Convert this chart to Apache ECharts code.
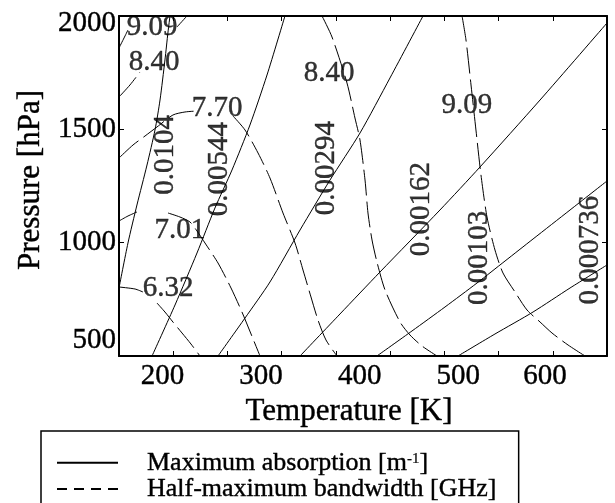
<!DOCTYPE html>
<html><head><meta charset="utf-8">
<script src="https://cdn.jsdelivr.net/npm/echarts@6/dist/echarts.min.js"></script>
<style>html,body{margin:0;padding:0;background:#fff}#c{width:615px;height:503px}</style>
</head><body><div id="c"></div>
<script>
const FONT = 'Liberation Serif';
const NAME_ABS = 'Maximum absorption [m-1]';
const NAME_BW = 'Half-maximum bandwidth [GHz]';

// x axis: tick marks and tick labels (temperature, K)
const xRange = [155.9, 650.8];
const xTickAt = [211.0, 266.0, 320.9, 375.9, 430.9, 485.8, 540.8, 595.8];
const xLabelAt = [200, 300, 400, 500, 588];
const xLabels = ['200', '300', '400', '500', '600'];
// y axis (pressure, hPa)
const yRange = [500, 2000];
const yStep = 500;

// solid contours: maximum absorption [T (K), P (hPa)]
const abs0104 = [[155.9,800.0],[165.0,998.5],[174.1,1166.2],[184.3,1342.6],[192.4,1497.1],[197.5,1629.4],[202.5,1805.9],[205.6,1929.4],[207.6,2000]];
const abs00544 = [[189.4,500],[212.7,725.0],[235.0,954.4],[253.2,1152.9],[270.5,1320.6],[288.7,1519.1],[306.0,1739.7],[324.2,2000]];
const abs00294 = [[256.3,500],[283.7,667.6],[309.0,826.5],[339.5,1055.9],[369.9,1276.5],[400.3,1483.8],[430.7,1726.5],[464.2,2000]];
const abs00162 = [[339.5,500],[380.0,685.3],[420.6,870.6],[481.4,1144.1],[522.0,1333.8],[582.9,1629.4],[650.8,1969.1]];
const abs00103 = [[417.5,500],[453.0,610.3],[486.5,716.2],[519.0,822.1],[547.4,919.1],[575.8,1016.2],[613.3,1144.1],[650.8,1272.1]];
const abs000736 = [[499.7,500],[537.2,597.1],[575.8,694.1],[613.3,800.0],[650.8,901.5]];

// dashed contours: half-maximum bandwidth (null = break under a label / outside)
const bw632 = [[155.9,804.4],[172.1,795.6],[180.2,782.4],null,[194.4,733.8],[202.5,694.1],[210.6,650.0],[219.8,601.5],[228.9,552.9],[238.0,500]];
const bw701 = [[155.9,1095.6],[165.0,1117.6],[174.1,1135.3],null,[205.6,1130.9],[217.7,1113.2],[227.9,1091.2],[235.0,1051.5],[243.1,998.5],[256.3,910.3],[269.5,800.0],[280.6,694.1],[289.8,597.1],[298.9,500]];
const bw770 = [[155.9,1373.5],[170.1,1430.9],[182.3,1470.6],[194.4,1510.3],[210.6,1563.2],[222.8,1576.5],[235.0,1580.9],null,[271.5,1558.8],[283.7,1497.1],[296.9,1395.6],[309.0,1285.3],[322.2,1130.9],[334.4,998.5],[342.5,879.4],[350.6,760.3],[357.7,658.8],[365.8,570.6],[377.0,500]];
const bw840 = [[155.9,1642.6],[167.0,1695.6],[177.2,1752.9],null,[214.7,1951.5],[224.8,2000],null,[361.8,2000],[371.9,1907.4],[387.1,1704.4],[395.2,1550.0],[400.3,1452.9],[405.4,1276.5],[408.4,1130.9],[412.5,1011.8],[417.5,914.7],[425.7,791.2],[440.9,650.0],[451.0,592.6],[463.2,544.1],[478.4,500]];
const bw909 = [[155.9,1858.8],[161.0,1903.0],[165.0,1938.2],null,[503.8,2000],[507.8,1894.1],[512.9,1695.6],[517.9,1497.1],[523.0,1298.5],[529.1,1113.2],[537.2,967.6],[545.3,866.2],[557.5,782.4],[569.7,702.9],[582.9,650.0],[595.0,601.5],[611.3,548.5],[628.5,500]];

// contour labels: [T, P, text, rotation]
const contourLabels = [
  [189.4,1951.5,'9.09',0],
  [191.4,1797.1,'8.40',0],
  [255.3,1594.1,'7.70',0],
  [217.7,1055.9,'7.01',0],
  [205.6,800.0,'6.32',0],
  [368.9,1748.5,'8.40',0],
  [508.8,1607.4,'9.09',0],
  [202.5,1386.8,'0.0104',90],
  [257.3,1325.0,'0.00544',90],
  [365.8,1329.4,'0.00294',90],
  [462.2,1148.5,'0.00162',90],
  [521.0,932.4,'0.00103',90],
  [633.6,967.6,'0.000736',90]
];

const solidContours = [abs0104, abs00544, abs00294, abs00162, abs00103, abs000736];
const dashedContours = [bw632, bw701, bw770, bw840, bw909];

function segments(arr) {
  const out = []; let cur = [];
  arr.forEach(p => { if (p === null) { if (cur.length) out.push(cur); cur = []; } else cur.push(p); });
  if (cur.length) out.push(cur);
  return out;
}

const INK = { color: '#000', textBorderColor: '#000', textBorderWidth: 0.4 };

const series = [];
solidContours.forEach(c => segments(c).forEach(seg => series.push({
  type: 'line', name: NAME_ABS, data: seg, symbol: 'none', smooth: 0.25, silent: true,
  lineStyle: { color: '#000', width: 1, type: 'solid' }, itemStyle: { color: '#000' }, z: 2
})));
dashedContours.forEach(c => segments(c).forEach(seg => series.push({
  type: 'line', name: NAME_BW, data: seg, symbol: 'none', smooth: 0.25, silent: true,
  lineStyle: { color: '#000', width: 1, type: [26, 6] }, itemStyle: { color: '#000' }, z: 2
})));
series.push({
  type: 'scatter', name: 'labels', silent: true, symbolSize: 1, z: 5,
  itemStyle: { color: 'rgba(0,0,0,0)' },
  label: Object.assign({ show: true, position: 'inside', fontFamily: FONT, fontSize: 29 }, INK),
  data: contourLabels.map(l => ({ value: [l[0], l[1]], label: { rotate: l[3], formatter: l[2] } }))
});

const axisLineStyle = { show: true, onZero: false, lineStyle: { color: '#000', width: 2 } };
const tickStyle = { show: true, inside: true, length: 5, lineStyle: { color: '#000', width: 1 } };

const chart = echarts.init(document.getElementById('c'), null, { renderer: 'canvas' });
chart.setOption({
  animation: false,
  backgroundColor: '#fff',
  textStyle: { fontFamily: FONT },
  grid: { left: 119, right: 8, top: 16, bottom: 147, containLabel: false, outerBoundsMode: 'none' },
  xAxis: [{
    type: 'value', min: xRange[0], max: xRange[1], position: 'bottom',
    name: 'Temperature [K]', nameLocation: 'middle', nameGap: 40, nameMoveOverlap: false,
    nameTextStyle: Object.assign({ fontFamily: FONT, fontSize: 31, padding: [0, 28, 0, 0] }, INK),
    axisLine: axisLineStyle,
    axisTick: Object.assign({ customValues: xTickAt }, tickStyle),
    axisLabel: Object.assign({ customValues: xLabelAt, fontFamily: FONT, fontSize: 29, margin: 6,
      formatter: v => xLabels[xLabelAt.indexOf(v)] }, INK),
    splitLine: { show: false }
  }, {
    type: 'value', min: xRange[0], max: xRange[1], position: 'top',
    axisLine: axisLineStyle,
    axisTick: Object.assign({ customValues: xTickAt }, tickStyle),
    axisLabel: { show: false }, splitLine: { show: false }
  }],
  yAxis: [{
    type: 'value', min: yRange[0], max: yRange[1], interval: yStep, position: 'left',
    name: 'Pressure [hPa]', nameLocation: 'middle', nameGap: 73, nameMoveOverlap: false,
    nameTextStyle: Object.assign({ fontFamily: FONT, fontSize: 31, padding: [0, 0, 0, 12] }, INK),
    axisLine: axisLineStyle, axisTick: tickStyle,
    axisLabel: Object.assign({ fontFamily: FONT, fontSize: 29, margin: 3,
      verticalAlignMinLabel: 'bottom', verticalAlignMaxLabel: 'top',
      formatter: v => v === yRange[1] ? '{hi|' + v + '}' : (v === yRange[0] ? '{lo|' + v + '}' : '' + v),
      rich: {
        hi: Object.assign({ fontFamily: FONT, fontSize: 29, lineHeight: 14 }, INK),
        lo: Object.assign({ fontFamily: FONT, fontSize: 29, lineHeight: 32 }, INK)
      } }, INK),
    splitLine: { show: false }
  }, {
    type: 'value', min: yRange[0], max: yRange[1], interval: yStep, position: 'right',
    axisLine: axisLineStyle, axisTick: tickStyle,
    axisLabel: { show: false }, splitLine: { show: false }
  }],
  legend: {
    orient: 'vertical', left: 41, top: 431, height: 200,
    padding: [18.5, 22, 30, 16],
    borderColor: '#000', borderWidth: 1.5, borderRadius: 0, backgroundColor: '#fff',
    itemWidth: 61, itemHeight: 2, itemGap: 0, selectedMode: false,
    itemStyle: { borderWidth: 0 },
    textStyle: Object.assign({ fontFamily: FONT, fontSize: 26, lineHeight: 23, padding: [0, 0, 0, 24],
      rich: {
        t: Object.assign({ fontFamily: FONT, fontSize: 26, lineHeight: 23 }, INK),
        s: Object.assign({ fontFamily: FONT, fontSize: 15, lineHeight: 10, verticalAlign: 'top' }, INK, { textBorderWidth: 0.2 })
      } }, INK),
    formatter: name => name === NAME_ABS ? '{t|Maximum absorption [m}{s|-1}{t|]}' : '{t|' + name + '}',
    data: [
      { name: NAME_ABS, icon: 'path://M0,0H61V2H0Z' },
      { name: NAME_BW, icon: 'path://M0,0H10V2H0Z M17,0H27V2H17Z M34,0H44V2H34Z M51,0H61V2H51Z' }
    ]
  },
  series: series
});
</script>
</body></html>
